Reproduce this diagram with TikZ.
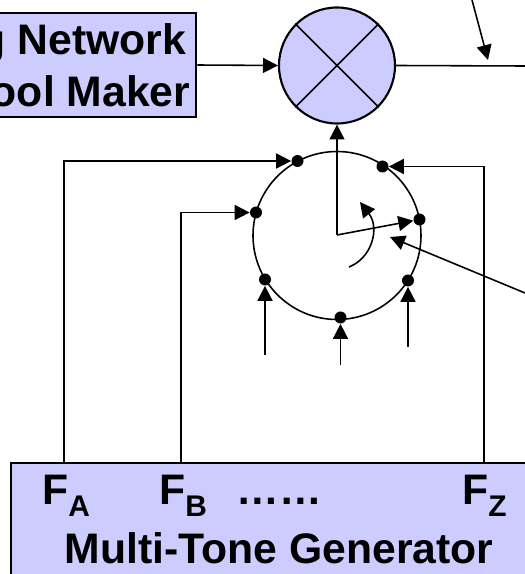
\documentclass[tikz,border=0pt]{standalone}
\usepackage{fontspec}
\setmainfont{Liberation Sans}
\usetikzlibrary{arrows.meta}
\tikzset{
    wire/.style={line width=0.9pt, -{Triangle[length=8.5pt, width=8.5pt]}},
    plainwire/.style={line width=0.9pt},
    block/.style={draw, line width=1.2pt, fill=boxblue, inner sep=0pt, font=\bfseries\fontsize{24.3}{29.6}\selectfont},
    dot/.style={circle, fill=black, inner sep=0pt, minimum size=0.24cm},
    tone/.style={anchor=base west, inner sep=0pt, font=\bfseries\fontsize{24.3}{29.6}\selectfont}
}
\definecolor{boxblue}{HTML}{CCCCFF}
\newcommand{\subtone}[1]{\raisebox{-6.8pt}{\fontsize{17}{17}\selectfont #1}}

\begin{document}
\begin{tikzpicture}
        \useasboundingbox (0, 0) rectangle (10.5, 11.48);
        \clip (0, 0) rectangle (10.5, 11.48);

        \node[block, minimum width=4.32cm, minimum height=2.08cm, align=right] (maker) at (1.76, 10.18) {g Network\kern0.2cm\\ool Maker\kern0.12cm};
        \node[block, minimum width=10.72cm, minimum height=3.4cm] (generator) at (5.58, 0.52) {Multi-Tone Generator};

        \node[draw, circle, line width=1.2pt, fill=boxblue, inner sep=0pt, minimum size=2.32cm] (mixer) at (6.74, 10.17) {};
        \draw[plainwire] (mixer.45) -- (mixer.225);
        \draw[plainwire] (mixer.135) -- (mixer.315);

        \node[draw, circle, line width=0.9pt, inner sep=0pt, minimum size=3.36cm] (wheel) at (6.74, 6.77) {};

        \node[dot] (dota) at (5.95, 8.26) {};
        \node[dot] (dotz) at (7.65, 8.15) {};
        \node[dot] (dotb) at (5.12, 7.23) {};
        \node[dot] (dotr) at (8.39, 7.09) {};
        \node[dot] (dotl) at (5.30, 5.89) {};
        \node[dot] (dotm) at (6.81, 5.13) {};
        \node[dot] (dotn) at (8.16, 5.87) {};

        \node[tone] (fa) at (0.84, 1.38) {F\subtone{A}};
        \node[tone] (fb) at (3.18, 1.38) {F\subtone{B}};
        \node[tone] (dots) at (4.72, 1.38) {……};
        \node[tone] (fz) at (9.24, 1.38) {F\subtone{Z}};

        \coordinate (outa) at (1.28, 2.22);
        \coordinate (outb) at (3.62, 2.22);
        \coordinate (outz) at (9.68, 2.22);
        \coordinate (pivot) at (6.74, 6.78);
        \coordinate (outmix) at (10.5, 10.16);
        \coordinate (drivefrom) at (9.44, 11.48);
        \coordinate (driveto) at (9.76, 10.28);
        \coordinate (ctrlfrom) at (10.5, 5.62);
        \coordinate (ctrlto) at (7.8, 6.74);
        \coordinate (feedl) at (5.30, 4.38);
        \coordinate (feedm) at (6.81, 4.18);
        \coordinate (feedn) at (8.16, 4.54);
        \coordinate (turnfrom) at (6.98, 6.14);
        \coordinate (turnto) at (7.2, 7.44);

        \draw[wire] (maker.east) -- (mixer.west);
        \draw[plainwire] (mixer.east) -- (outmix);
        \draw[wire] (drivefrom) -- (driveto);

        \draw[wire] (outa) |- (dota);
        \draw[wire] (outb) |- (dotb);
        \draw[wire] (outz) |- (dotz);

        \draw[wire] (feedl) -- (dotl);
        \draw[wire] (feedm) -- (dotm);
        \draw[wire] (feedn) -- (dotn);

        \draw[wire] (pivot) -- (mixer);
        \draw[wire] (pivot) -- (dotr);
        \draw[wire] (turnfrom) .. controls (7.44, 6.32) and (7.6, 6.92) .. (turnto);
        \draw[wire] (ctrlfrom) -- (ctrlto);
    \end{tikzpicture}
\end{document}
